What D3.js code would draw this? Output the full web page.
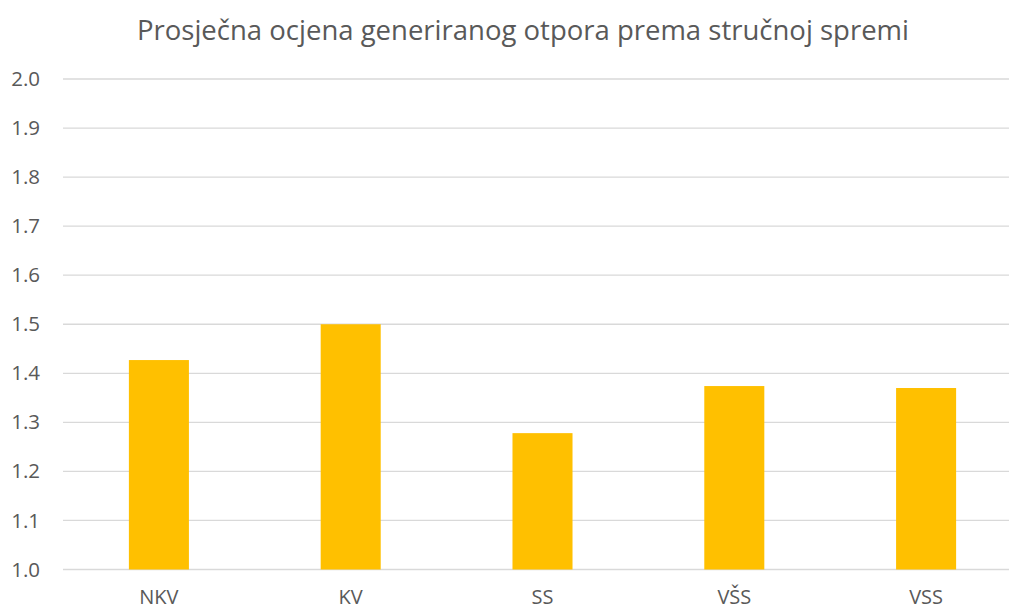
<!DOCTYPE html>
<html>
<head>
<meta charset="utf-8">
<script src="https://cdn.jsdelivr.net/npm/d3@7"></script>
<style>
  body { margin: 0; background: #fff; }
  text { font-family: "Open Sans", "Noto Sans", sans-serif; fill: #595959; }
</style>
</head>
<body>
<svg id="chart" width="1009" height="610"></svg>
<script>
var titleText = "Prosječna ocjena generiranog otpora prema stručnoj spremi";
var categories = ["NKV", "KV", "SS", "VŠS", "VSS"];
var values = [1.427, 1.5, 1.278, 1.374, 1.37];
var yTicks = [1.0, 1.1, 1.2, 1.3, 1.4, 1.5, 1.6, 1.7, 1.8, 1.9, 2.0];

var svg = d3.select("#chart");

var x = d3.scaleBand()
	.domain(categories)
	.range([63, 1022])
	.paddingInner(0.687)
	.paddingOuter(0.3435);

var y = d3.scaleLinear()
	.domain([1.0, 2.0])
	.range([569.5, 79]);

// gridlines
svg.append("g")
	.selectAll("line")
	.data(yTicks)
	.enter()
	.append("line")
	.attr("x1", 63)
	.attr("x2", 1009)
	.attr("y1", function (d) { return y(d); })
	.attr("y2", function (d) { return y(d); })
	.style("stroke", "#d9d9d9")
	.style("stroke-width", 1.3);

// y axis labels
var yAxis = d3.axisLeft(y)
	.tickValues(yTicks)
	.tickFormat(d3.format(".1f"))
	.tickSize(0)
	.tickPadding(0);

svg.append("g")
	.attr("transform", "translate(40,0)")
	.call(yAxis)
	.call(function (g) { g.select(".domain").remove(); })
	.selectAll("text")
	.style("font-size", "20.5px")
	.style("fill", "#595959")
	.style("font-family", "Open Sans, sans-serif");

// bars
svg.append("g")
	.selectAll("rect")
	.data(values)
	.enter()
	.append("rect")
	.attr("x", function (d, i) { return x(categories[i]); })
	.attr("width", x.bandwidth())
	.attr("y", function (d) { return y(d); })
	.attr("height", function (d) { return y(1.0) - y(d); })
	.style("fill", "#ffc000");

// x axis labels
var xAxis = d3.axisBottom(x)
	.tickSize(0)
	.tickPadding(0);

svg.append("g")
	.attr("transform", "translate(0,590)")
	.call(xAxis)
	.call(function (g) { g.select(".domain").remove(); })
	.selectAll("text")
	.style("font-size", "20px")
	.style("fill", "#595959")
	.style("font-family", "Open Sans, sans-serif");

// title
svg.append("text")
	.attr("x", 523)
	.attr("y", 40)
	.attr("text-anchor", "middle")
	.style("font-size", "27.5px")
	.text(titleText);
</script>
</body>
</html>
